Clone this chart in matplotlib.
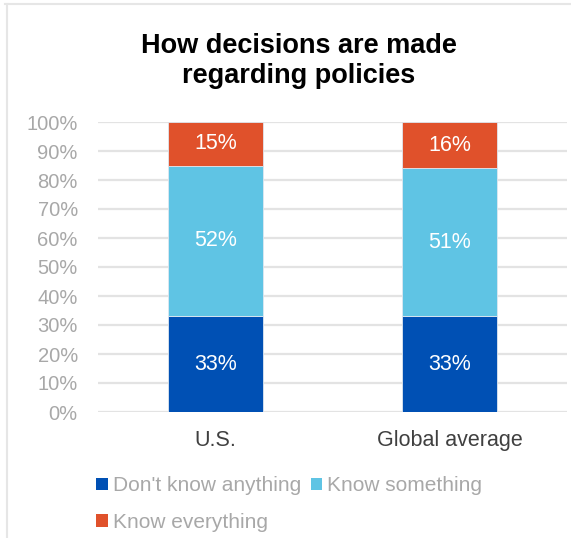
import matplotlib
matplotlib.use("Agg")
import matplotlib.pyplot as plt
from matplotlib.patches import Patch
from matplotlib.lines import Line2D
import numpy as np

categories = ["U.S.", "Global average"]
series_names = ["Don't know anything", "Know something", "Know everything"]
dont_know = [33, 33]
know_some = [52, 51]
know_all = [15, 16]
colors = ["#0050b4", "#5fc4e4", "#e0512b"]
yticks = [0, 10, 20, 30, 40, 50, 60, 70, 80, 90, 100]

plt.rcParams['font.family'] = ['Liberation Sans', 'DejaVu Sans']

fig = plt.figure(figsize=(5.71, 5.38), dpi=100)
ax = fig.add_axes([98/571, (538-412)/538, (567-98)/571, (412-122)/538])

x = np.arange(len(categories))
series = [dont_know, know_some, know_all]
bottom = np.zeros(len(categories))
for vals, c, name in zip(series, colors, series_names):
    ax.bar(x, vals, width=0.405, bottom=bottom, color=c, label=name,
           edgecolor="#dfe7f0", linewidth=0.6, zorder=3)
    for xi, v, b in zip(x, vals, bottom):
        ax.text(xi, b + v / 2, f"{v}%", ha="center", va="center",
                color="white", fontsize=15.5, zorder=4)
    bottom += np.array(vals)

ax.set_xlim(-0.5, 1.5)
ax.set_ylim(0, 100)
ax.set_yticks(yticks)
ax.set_yticklabels([f"{t}%" for t in yticks], color="#a8a8a8", fontsize=14.5)
ax.set_xticks(x)
ax.set_xticklabels(categories, color="#404040", fontsize=15.5)
ax.tick_params(axis="both", length=0)
ax.tick_params(axis="y", pad=14.5)
ax.tick_params(axis="x", pad=13)
for s in ax.spines.values():
    s.set_visible(False)
ax.yaxis.grid(True, color="#e3e3e3", linewidth=1.6, zorder=0)
ax.set_axisbelow(True)

tx = 299 / 571
fig.text(tx, 1 - 53 / 538, "How decisions are made", ha="center", va="baseline",
         fontsize=19.5, fontweight="bold", color="black")
fig.text(tx, 1 - 83 / 538, "regarding policies", ha="center", va="baseline",
         fontsize=19.5, fontweight="bold", color="black")

handles = [Patch(facecolor=colors[0]), Patch(facecolor=colors[2]), Patch(facecolor=colors[1])]
labels = [series_names[0], series_names[2], series_names[1]]
fig.legend(handles, labels, ncol=2, loc="upper left",
           bbox_to_anchor=(86/571, 1 - 466/538), frameon=False,
           fontsize=15, labelcolor="#a8a8a8", handlelength=0.55, handleheight=0.55,
           handletextpad=0.25, columnspacing=0.45, labelspacing=0.85, borderpad=0)

fig.add_artist(Line2D([5/571, 1], [1 - 3.5/538, 1 - 3.5/538], color="#e6e6e6", lw=1.5,
                      transform=fig.transFigure))
fig.add_artist(Line2D([7/571, 7/571], [0, 1 - 3.5/538], color="#e6e6e6", lw=1.5,
                      transform=fig.transFigure))

fig.savefig("out.png", dpi=100)
